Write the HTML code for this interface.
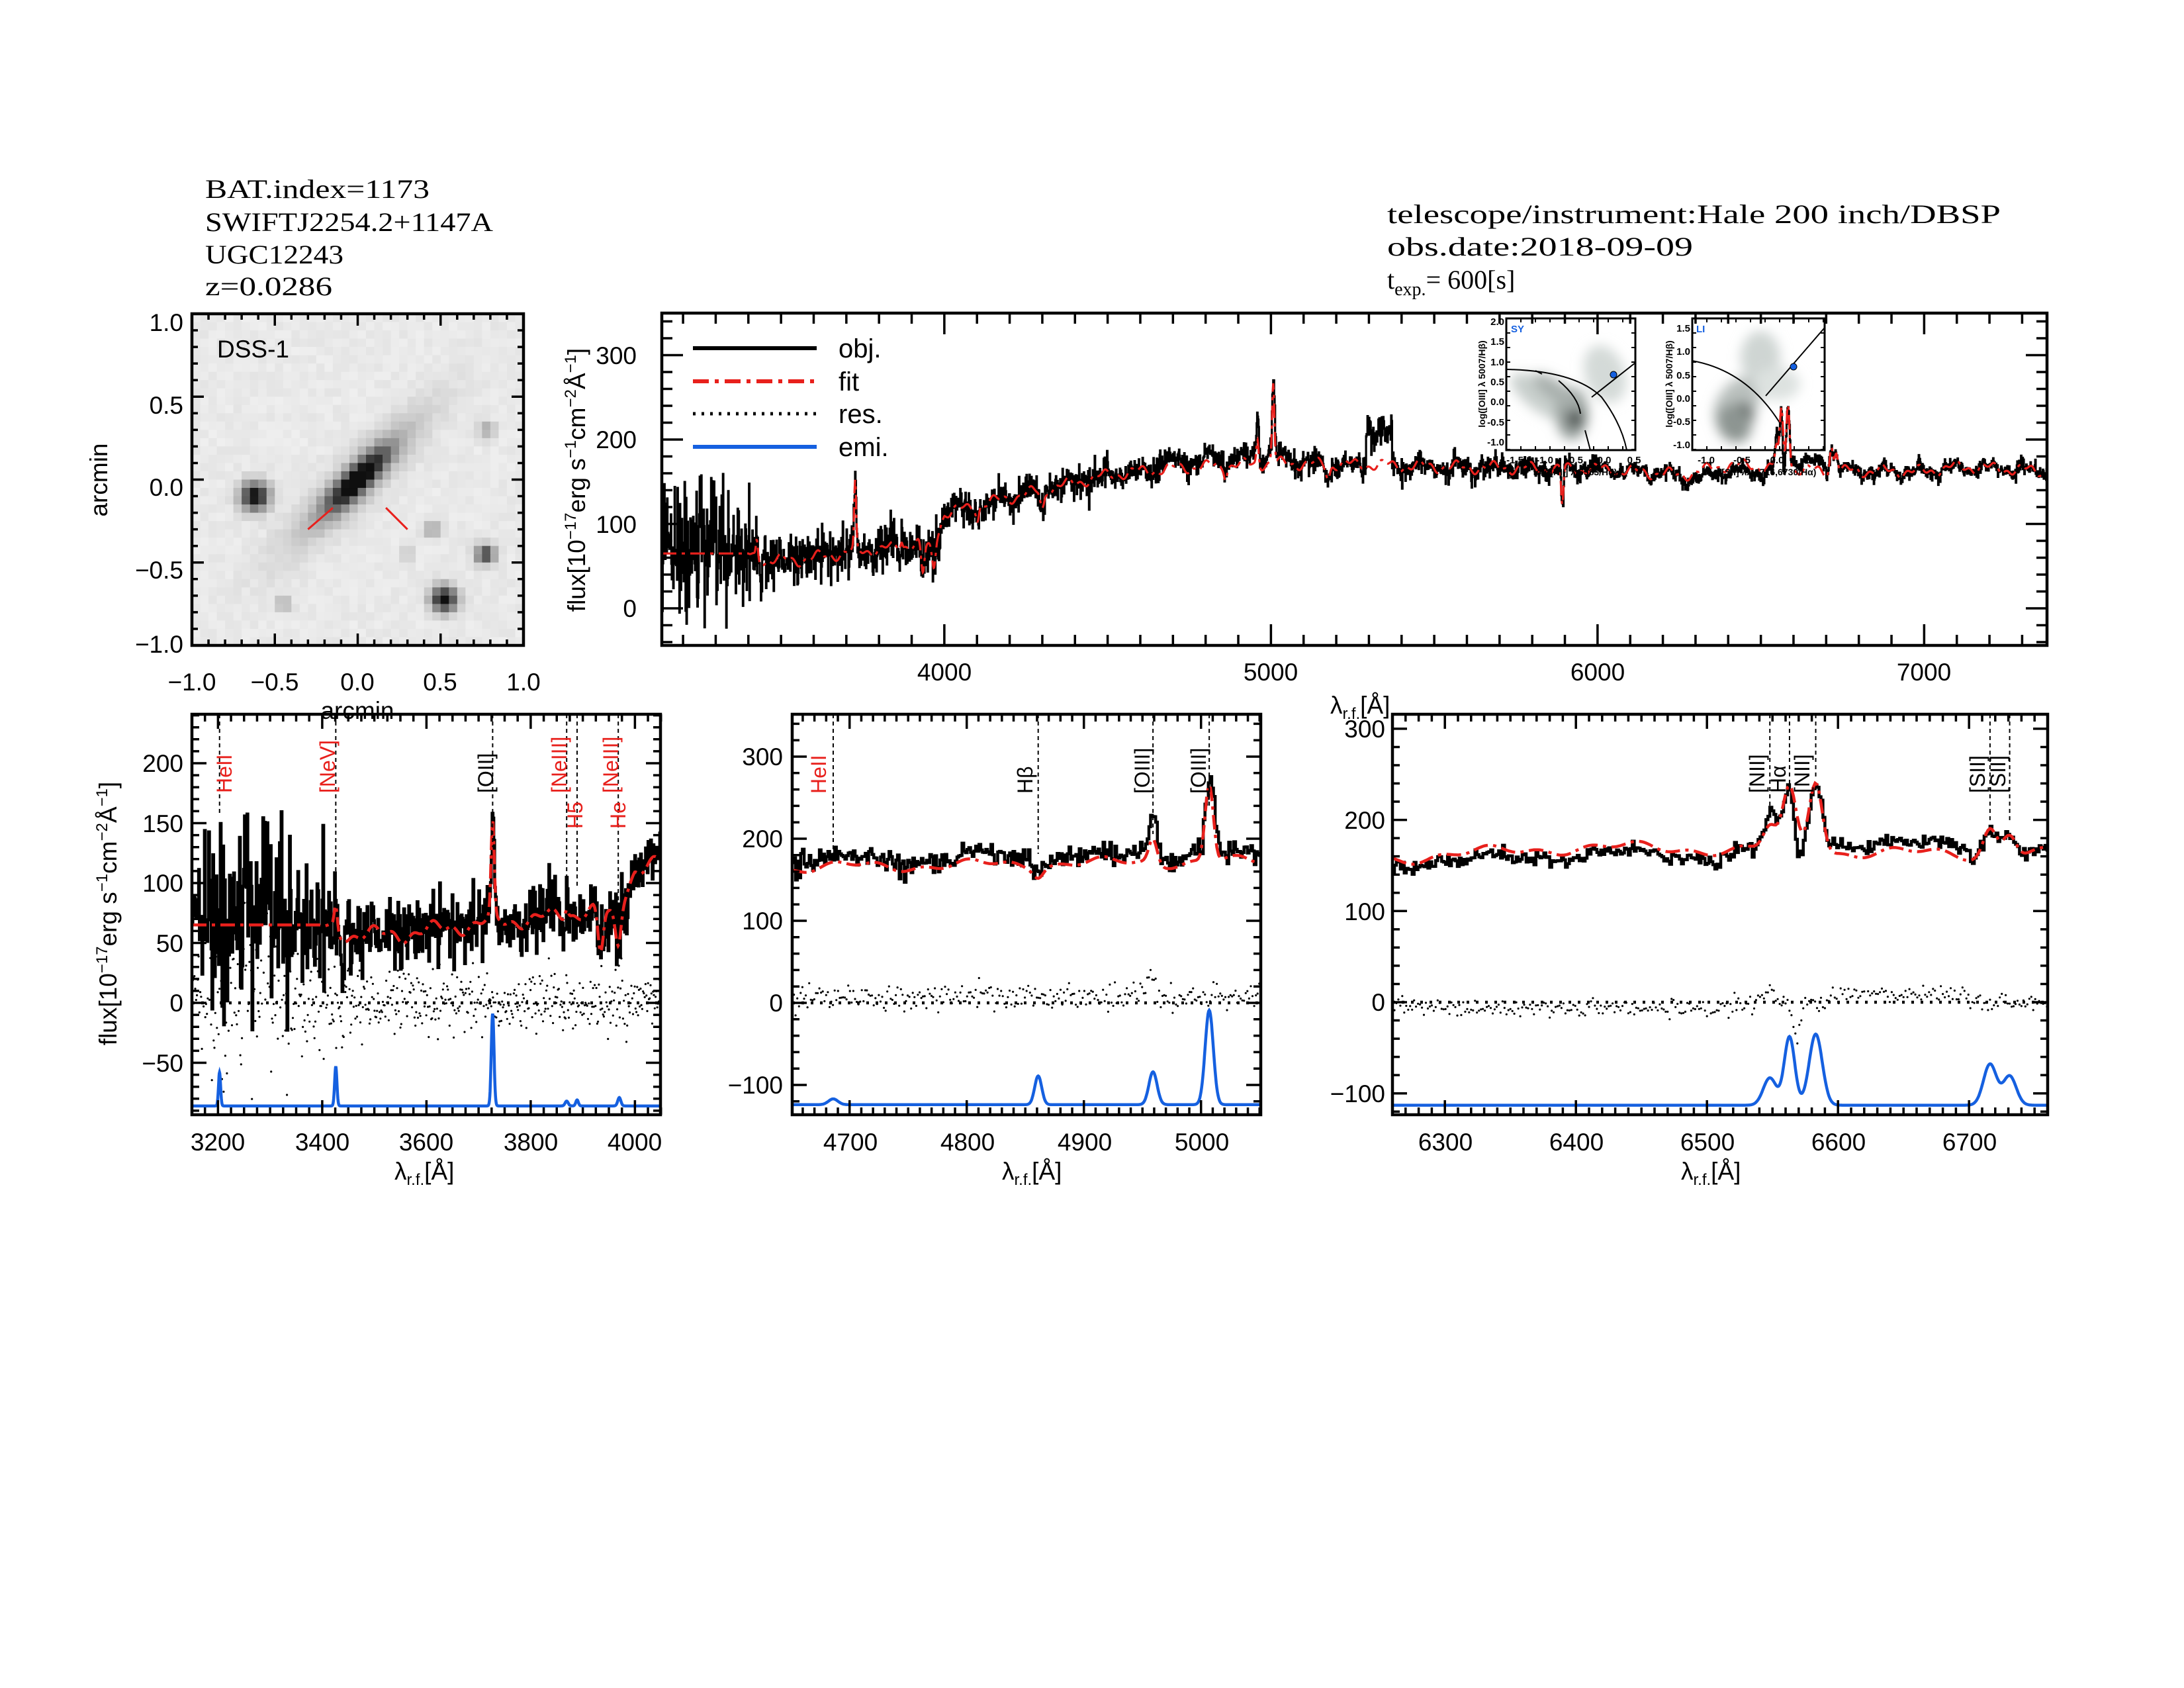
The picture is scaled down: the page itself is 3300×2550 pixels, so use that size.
<!DOCTYPE html>
<html><head><meta charset="utf-8"><style>
html,body{margin:0;padding:0;background:#fff;}
svg{display:block;}
text{font-family:"Liberation Sans",sans-serif;fill:#000;}
.hd{font-family:"Liberation Serif",serif;font-size:40px;}
.tk{font-size:37px;}
.ln{font-family:"Liberation Serif",serif;font-size:32px;}
</style></head><body>
<svg id="s" width="3300" height="2550" viewBox="0 0 3300 2550" xmlns="http://www.w3.org/2000/svg">
<rect width="3300" height="2550" fill="#fff"/>
<defs>
<clipPath id="cm"><rect x="1000" y="473" width="2093" height="502"/></clipPath>
<clipPath id="c1"><rect x="290" y="1079" width="708" height="605"/></clipPath>
<clipPath id="c2"><rect x="1197" y="1079" width="708" height="605"/></clipPath>
<clipPath id="c3"><rect x="2104" y="1079" width="990" height="605"/></clipPath>
<clipPath id="ci1"><rect x="2276" y="481" width="195" height="199"/></clipPath>
<clipPath id="ci2"><rect x="2557" y="481" width="200" height="199"/></clipPath>
<filter id="bl" x="-50%" y="-50%" width="200%" height="200%"><feGaussianBlur stdDeviation="9"/></filter>
</defs>

<!-- header texts -->
<text class="hd" x="310" y="299" font-size="42" textLength="339" lengthAdjust="spacingAndGlyphs">BAT.index=1173</text>
<text class="hd" x="310" y="349" font-size="42" textLength="435" lengthAdjust="spacingAndGlyphs">SWIFTJ2254.2+1147A</text>
<text class="hd" x="310" y="398" font-size="42" textLength="209" lengthAdjust="spacingAndGlyphs">UGC12243</text>
<text class="hd" x="310" y="446" font-size="42" textLength="192" lengthAdjust="spacingAndGlyphs">z=0.0286</text>
<text class="hd" x="2096" y="337" font-size="44" textLength="927" lengthAdjust="spacingAndGlyphs">telescope/instrument:Hale 200 inch/DBSP</text>
<text class="hd" x="2096" y="386" font-size="44" textLength="462" lengthAdjust="spacingAndGlyphs">obs.date:2018-09-09</text>
<text class="hd" x="2096" y="436" font-size="44">t<tspan font-size="28" dy="10">exp.</tspan><tspan dy="-10">=  600[s]</tspan></text>

<g id="img"></g>
<g id="insets"></g>
<g id="plots"></g>

<!-- image panel labels -->
<text class="tk" x="328" y="540" font-family="Liberation Serif" font-size="32">DSS-1</text>
<g class="tk" text-anchor="end">
<text x="277" y="500">1.0</text><text x="277" y="625">0.5</text><text x="277" y="749">0.0</text><text x="277" y="874">−0.5</text><text x="277" y="986">−1.0</text>
</g>
<g class="tk" text-anchor="middle">
<text x="290" y="1043">−1.0</text><text x="415" y="1043">−0.5</text><text x="540" y="1043">0.0</text><text x="665" y="1043">0.5</text><text x="791" y="1043">1.0</text>
</g>
<text class="tk" x="540" y="1086" text-anchor="middle" font-family="Liberation Serif">arcmin</text>
<text class="tk" transform="translate(162,725) rotate(-90)" text-anchor="middle" font-family="Liberation Serif">arcmin</text>

<!-- main panel labels -->
<g class="tk" text-anchor="end">
<text x="962" y="550">300</text><text x="962" y="677">200</text><text x="962" y="805">100</text><text x="962" y="932">0</text>
</g>
<g class="tk" text-anchor="middle">
<text x="1427" y="1028">4000</text><text x="1920" y="1028">5000</text><text x="2414" y="1028">6000</text><text x="2907" y="1028">7000</text>
</g>
<text class="tk" x="2010" y="1078" font-family="Liberation Serif">λ<tspan font-size="24" dy="8">r.f.</tspan><tspan dy="-8">[Å]</tspan></text>
<text class="tk" transform="translate(884,725) rotate(-90)" text-anchor="middle" font-family="Liberation Serif" font-size="38">flux[10<tspan font-size="24" dy="-14">−17</tspan><tspan dy="14">erg s</tspan><tspan font-size="24" dy="-14">−1</tspan><tspan dy="14">cm</tspan><tspan font-size="24" dy="-14">−2</tspan><tspan dy="14">Å</tspan><tspan font-size="24" dy="-14">−1</tspan><tspan dy="14">]</tspan></text>
<!-- legend -->
<line x1="1047" y1="526" x2="1234" y2="526" stroke="#000" stroke-width="6"/>
<line x1="1047" y1="576" x2="1234" y2="576" stroke="#e8201c" stroke-width="6" stroke-dasharray="24 9 6 9"/>
<line x1="1047" y1="625" x2="1234" y2="625" stroke="#000" stroke-width="5" stroke-dasharray="4 9"/>
<line x1="1047" y1="675" x2="1234" y2="675" stroke="#1560e0" stroke-width="6"/>
<g class="hd" font-size="40">
<text x="1267" y="540">obj.</text><text x="1267" y="590">fit</text><text x="1267" y="639">res.</text><text x="1267" y="689">emi.</text>
</g>

<!-- inset labels -->
<g font-size="15" font-weight="bold">
<text x="2283" y="502" style="fill:#1560e0">SY</text>
<text x="2563" y="502" style="fill:#1560e0">LI</text>
<g text-anchor="end">
<text x="2273" y="491">2.0</text><text x="2273" y="521">1.5</text><text x="2273" y="552">1.0</text><text x="2273" y="582">0.5</text><text x="2273" y="612">0.0</text><text x="2273" y="643">-0.5</text><text x="2273" y="673">-1.0</text>
<text x="2554" y="501">1.5</text><text x="2554" y="536">1.0</text><text x="2554" y="572">0.5</text><text x="2554" y="607">0.0</text><text x="2554" y="642">-0.5</text><text x="2554" y="677">-1.0</text>
</g>
<g text-anchor="middle">
<text x="2289" y="700">-1.5</text><text x="2334" y="700">-1.0</text><text x="2379" y="700">-0.5</text><text x="2424" y="700">0.0</text><text x="2469" y="700">0.5</text>
<text x="2578" y="700">-1.0</text><text x="2632" y="700">-0.5</text><text x="2685" y="700">0.0</text><text x="2739" y="700">0.4</text>
</g>
<text transform="translate(2244,580) rotate(-90)" text-anchor="middle" font-size="14">log([OIII] λ 5007/Hβ)</text>
<text transform="translate(2527,580) rotate(-90)" text-anchor="middle" font-size="14">log([OIII] λ 5007/Hβ)</text>
<text x="2380" y="718" text-anchor="middle" font-size="14">log([NII] λ 6583/Hα)</text>
<text x="2660" y="718" text-anchor="middle" font-size="14">log([SII] λλ 6716,6730/Hα)</text>
</g>

<!-- panel 1 labels -->
<g class="tk" text-anchor="end">
<text x="277" y="1166">200</text><text x="277" y="1257">150</text><text x="277" y="1347">100</text><text x="277" y="1438">50</text><text x="277" y="1528">0</text><text x="277" y="1619">−50</text>
</g>
<g class="tk" text-anchor="middle">
<text x="329" y="1738">3200</text><text x="487" y="1738">3400</text><text x="644" y="1738">3600</text><text x="802" y="1738">3800</text><text x="959" y="1738">4000</text>
</g>
<text class="tk" x="596" y="1782" font-family="Liberation Serif">λ<tspan font-size="24" dy="8">r.f.</tspan><tspan dy="-8">[Å]</tspan></text>
<text class="tk" transform="translate(176,1380) rotate(-90)" text-anchor="middle" font-family="Liberation Serif" font-size="38">flux[10<tspan font-size="24" dy="-14">−17</tspan><tspan dy="14">erg s</tspan><tspan font-size="24" dy="-14">−1</tspan><tspan dy="14">cm</tspan><tspan font-size="24" dy="-14">−2</tspan><tspan dy="14">Å</tspan><tspan font-size="24" dy="-14">−1</tspan><tspan dy="14">]</tspan></text>
<g class="ln">
<text transform="translate(350,1198) rotate(-90)" style="fill:#e8201c">HeII</text>
<text transform="translate(506,1198) rotate(-90)" style="fill:#e8201c">[NeV]</text>
<text transform="translate(745,1198) rotate(-90)">[OII]</text>
<text transform="translate(856,1198) rotate(-90)" style="fill:#e8201c">[NeIII]</text>
<text transform="translate(880,1252) rotate(-90)" style="fill:#e8201c">H5</text>
<text transform="translate(934,1198) rotate(-90)" style="fill:#e8201c">[NeIII]</text>
<text transform="translate(945,1252) rotate(-90)" style="fill:#e8201c">He</text>
</g>

<!-- panel 2 labels -->
<g class="tk" text-anchor="end">
<text x="1183" y="1156">300</text><text x="1183" y="1280">200</text><text x="1183" y="1404">100</text><text x="1183" y="1528">0</text><text x="1183" y="1652">−100</text>
</g>
<g class="tk" text-anchor="middle">
<text x="1285" y="1738">4700</text><text x="1462" y="1738">4800</text><text x="1639" y="1738">4900</text><text x="1816" y="1738">5000</text>
</g>
<text class="tk" x="1514" y="1782" font-family="Liberation Serif">λ<tspan font-size="24" dy="8">r.f.</tspan><tspan dy="-8">[Å]</tspan></text>
<g class="ln">
<text transform="translate(1248,1199) rotate(-90)" style="fill:#e8201c">HeII</text>
<text transform="translate(1560,1199) rotate(-90)">Hβ</text>
<text transform="translate(1737,1199) rotate(-90)">[OIII]</text>
<text transform="translate(1822,1199) rotate(-90)">[OIII]</text>
</g>

<!-- panel 3 labels -->
<g class="tk" text-anchor="end">
<text x="2093" y="1114">300</text><text x="2093" y="1252">200</text><text x="2093" y="1390">100</text><text x="2093" y="1527">0</text><text x="2093" y="1665">−100</text>
</g>
<g class="tk" text-anchor="middle">
<text x="2184" y="1738">6300</text><text x="2382" y="1738">6400</text><text x="2580" y="1738">6500</text><text x="2778" y="1738">6600</text><text x="2976" y="1738">6700</text>
</g>
<text class="tk" x="2540" y="1782" font-family="Liberation Serif">λ<tspan font-size="24" dy="8">r.f.</tspan><tspan dy="-8">[Å]</tspan></text>
<g class="ln">
<text transform="translate(2666,1198) rotate(-90)">[NII]</text>
<text transform="translate(2698,1198) rotate(-90)">Hα</text>
<text transform="translate(2734,1198) rotate(-90)">[NII]</text>
<text transform="translate(2999,1198) rotate(-90)">[SII]</text>
<text transform="translate(3030,1198) rotate(-90)">[SII]</text>
</g>
</svg>
<script>
(function(){
const NS="http://www.w3.org/2000/svg";
function el(p,tag,attrs){const e=document.createElementNS(NS,tag);for(const k in attrs)e.setAttribute(k,attrs[k]);p.appendChild(e);return e;}
function rng(seed){return function(){seed|=0;seed=seed+0x6D2B79F5|0;let t=Math.imul(seed^seed>>>15,1|seed);t=t+Math.imul(t^t>>>7,61|t)^t;return((t^t>>>14)>>>0)/4294967296;}}
const R=rng(12345);
function gn(){let u=R()||1e-9,v=R();return Math.sqrt(-2*Math.log(u))*Math.cos(2*Math.PI*v);}
const G=(l,c,s)=>Math.exp(-0.5*((l-c)/s)*((l-c)/s));
const cp=[[3100,65],[3400,63],[3450,57],[3550,57],[3700,66],[3850,72],[3920,78],[3960,70],[4000,112],[4100,122],[4300,140],[4500,158],[4700,166],[4900,170],[5000,172],[5300,170],[5600,167],[6000,165],[6260,158],[6400,170],[6500,168],[6700,162],[6800,163],[7000,162],[7100,168],[7400,162]];
function interp(l){for(let i=1;i<cp.length;i++){if(l<=cp[i][0]){const a=cp[i-1],b=cp[i];return a[1]+(b[1]-a[1])*(l-a[0])/(b[0]-a[0]);}}return cp[cp.length-1][1];}
function fit(l){
 let v=interp(l);
 if(l<3400) return 65;
 v+=5*Math.sin(l/17.3)+3*Math.sin(l/6.1);
 v-=35*G(l,3934,5)+30*G(l,3968,5)+22*G(l,4300,6)+10*G(l,4861,4)+15*G(l,5175,6)+45*G(l,5892,3.5)+15*G(l,4102,4);
 v+=78*G(l,3727,3)+8*G(l,3869,3)+95*G(l,5007,3.5)+30*G(l,4959,3.5)+25*G(l,6548,5)+65*G(l,6563,5)+80*G(l,6583,5)+30*G(l,6716,5)+25*G(l,6731,5)+20*G(l,3426,3);
 return v;}
function off(l){let o=0;if(l>4650&&l<5060)o+=8;if(l>6250&&l<6520)o-=7;if(l>6595&&l<6700)o+=10;
 o+=15*G(l,6548,3)-35*G(l,6569,3)+15*G(l,4959,4);
 if(l>5290&&l<5370)o+=40+25*(R()-0.5);
 return o;}
function sig(l){if(l<3300)return 42;if(l<3500)return 42-(l-3300)/200*26;if(l<4000)return 14;if(l<4500)return 10;if(l<6000)return 7;return 4;}
const NZ=[];for(let i=0;i<3000;i++)NZ.push(gn());
const RZ=[];for(let i=0;i<3000;i++)RZ.push(gn());
function nz(l){const i=Math.max(0,Math.min(2999,Math.round((l-3100)/1.45)));return NZ[i];}
function obj(l){return fit(l)+off(l)+sig(l)*nz(l);}
const P=document.getElementById('plots');

function panel(o){
 const X=l=>o.x0+(l-o.l0)*o.sx, Y=v=>o.y0-v*o.sy;
 const g=el(P,'g',{'clip-path':'url(#'+o.clip+')'});
 if(o.res){
  el(g,'line',{x1:o.bx0,x2:o.bx1,y1:Y(0),y2:Y(0),stroke:'#000','stroke-width':4.5,'stroke-dasharray':'4 10'});
  let d='';
  for(let l=o.l0;l<=o.l1;l+=o.step){const r=(obj(l)-fit(l))*0.9+o.rs*RZ[Math.round((l-3100)/o.step)%3000];d+=`M${X(l).toFixed(1)} ${Y(r).toFixed(1)}h0`;}
  el(g,'path',{d:d,stroke:'#000','stroke-width':3.2,'stroke-linecap':'round',fill:'none'});
 }
 if(o.emi){
  let d='';
  for(let l=o.l0;l<=o.l1;l+=0.5){let v=o.emiB;for(const e of o.emi)v+=e[1]*G(l,e[0],e[2]);d+=(d?'L':'M')+X(l).toFixed(1)+' '+Y(v).toFixed(1);}
  el(g,'path',{d:d,stroke:'#1560e0','stroke-width':o.lw,fill:'none'});
 }
 let d='';let first=true;
 for(let l=o.l0;l<=o.l1;l+=o.step){const y=Y(obj(l)).toFixed(1);const x=X(l).toFixed(1);if(first){d+=`M${x} ${y}`;first=false;}else d+=`V${y}`;d+=`H${X(l+o.step).toFixed(1)}`;}
 el(g,'path',{d:d,stroke:'#000','stroke-width':o.lw,fill:'none','stroke-linejoin':'miter'});
 let f='';
 for(let l=o.l0;l<=o.l1;l+=o.step){f+=(f?'L':'M')+X(l).toFixed(1)+' '+Y(fit(l)).toFixed(1);}
 el(g,'path',{d:f,stroke:'#e8201c','stroke-width':o.lw,fill:'none','stroke-dasharray':'22 8 5 8'});
 if(o.marks)for(const m of o.marks){el(P,'line',{x1:X(m[0]),x2:X(m[0]),y1:o.by0,y2:m[1],stroke:'#000','stroke-width':2,'stroke-dasharray':'6 5'});}
 axes(o.bx0,o.by0,o.bx1,o.by1,X,Y,o.xt,o.yt,o.L,o.Lm);
}
function axes(x0,y0,x1,y1,X,Y,xt,yt,L,Lm){
 let d='';
 for(let v=xt[0];v<=xt[1]+1e-9;v+=xt[3]){const x=X(v);if(x<x0-1||x>x1+1)continue;const maj=Math.abs(v/xt[2]-Math.round(v/xt[2]))<1e-6;const l=maj?L:Lm;d+=`M${x} ${y1}v${-l}M${x} ${y0}v${l}`;}
 for(let v=yt[0];v<=yt[1]+1e-9;v+=yt[3]){const y=Y(v);if(y<y0-1||y>y1+1)continue;const maj=Math.abs(v/yt[2]-Math.round(v/yt[2]))<1e-6;const l=maj?L:Lm;d+=`M${x0} ${y}h${l}M${x1} ${y}h${-l}`;}
 el(P,'path',{d:d,stroke:'#000','stroke-width':3.5,fill:'none'});
 el(P,'rect',{x:x0,y:y0,width:x1-x0,height:y1-y0,fill:'none',stroke:'#000','stroke-width':4.5});
}
const I=document.getElementById('insets');
function inset(bx0,by0,bx1,by1,clip,blobs,curves,dot){
 el(I,'rect',{x:bx0,y:by0,width:bx1-bx0,height:by1-by0,fill:'#fff'});
 const g=el(I,'g',{'clip-path':'url(#'+clip+')'});
 const gb=el(g,'g',{filter:'url(#bl)'});
 for(const b of blobs)el(gb,'ellipse',{cx:b[0],cy:b[1],rx:b[2],ry:b[3],fill:b[4],transform:`rotate(${b[5]} ${b[0]} ${b[1]})`});
 for(const c of curves)el(g,'path',{d:c,stroke:'#000','stroke-width':2,fill:'none'});
 el(g,'circle',{cx:dot[0],cy:dot[1],r:5,fill:'#1560e0',stroke:'#000','stroke-width':1});
 let d='';
 for(let x=bx0+22;x<bx1;x+=22)d+=`M${x} ${by0}v6M${x} ${by1}v-6`;
 for(let y=by0+22;y<by1;y+=22)d+=`M${bx0} ${y}h6M${bx1} ${y}h-6`;
 el(I,'path',{d:d,stroke:'#000','stroke-width':2});
 el(I,'rect',{x:bx0,y:by0,width:bx1-bx0,height:by1-by0,fill:'none',stroke:'#000','stroke-width':3});
}
inset(2276,481,2471,680,'ci1',
 [[2330,600,55,22,'#c8cfcc',35],[2375,625,25,40,'#9aa29f',0],[2380,633,12,14,'#4a504e',0],[2425,565,30,45,'#d4dad8',-20],[2350,590,40,15,'#a9b0ad',35]],
 ['M2276 558 Q2380 560 2420 600 Q2450 640 2458 680','M2355 575 Q2385 600 2388 625','M2395 650 L2403 680','M2405 600 L2471 548','M2320 560 L2330 565'],[2438,566]);
inset(2557,481,2757,680,'ci2',
 [[2625,610,45,30,'#b9c0bd',-55],[2660,540,30,40,'#cfd5d3',0],[2635,625,14,18,'#4f5553',-30],[2620,640,25,30,'#8d9592',-30],[2685,580,35,25,'#dde2e0',0]],
 ['M2557 545 Q2640 560 2690 640','M2668 598 L2757 495'],[2710,554]);

panel({clip:'cm',x0:1000,l0:3135,l1:7377,sx:0.4935,y0:919,sy:1.275,step:1.45,lw:3.2,
 bx0:1000,by0:473,bx1:3093,by1:975,xt:[3200,7300,1000,100],yt:[-40,340,100,20],L:32,Lm:16});
panel({clip:'c1',x0:290,l0:3150,l1:4050,sx:0.7875,y0:1515,sy:1.81,step:1.6,lw:4.5,res:true,rs:2,
 emi:[[3203,28,2],[3426,33,2.2],[3727,77,2.6],[3869,4,3],[3889,5,2.5],[3970,7,3]],emiB:-86,
 bx0:290,by0:1079,bx1:998,by1:1684,xt:[3150,4050,200,25],yt:[-90,240,50,10],L:22,Lm:11,
 marks:[[3203,1230],[3426,1320],[3727,1280],[3869,1330],[3889,1340],[3968,1380]]});
panel({clip:'c2',x0:1197,l0:4651,l1:5051,sx:1.77,y0:1515,sy:1.24,step:1.45,lw:4.5,res:true,rs:5,
 emi:[[4686,7,4],[4861,35,3],[4959,40,3.5],[5007,115,3.5]],emiB:-124,
 bx0:1197,by0:1079,bx1:1905,by1:1684,xt:[4660,5050,100,10],yt:[-120,340,100,20],L:22,Lm:11,
 marks:[[4686,1290],[4861,1290],[4959,1260],[5007,1220]]});
panel({clip:'c3',x0:2104,l0:6260,l1:6760,sx:1.98,y0:1514,sy:1.377,step:1.5,lw:4.5,res:true,rs:3,
 emi:[[6548,30,5],[6563,75,4],[6583,78,5],[6716,45,5],[6731,32,5]],emiB:-113,
 bx0:2104,by0:1079,bx1:3094,by1:1684,xt:[6260,6760,100,10],yt:[-120,310,100,20],L:22,Lm:11,
 marks:[[6548,1230],[6563,1190],[6583,1175],[6716,1240],[6731,1240]]});

const IM=document.getElementById('img');
const ix0=290,iy0=474,W=501,N=40,ps=W/N;
const stars=[[-0.62,-0.1,0.06,1],[0.52,-0.72,0.055,1],[0.77,-0.45,0.04,0.8],[0.45,-0.3,0.035,0.35],[0.78,0.3,0.035,0.3],[-0.45,-0.75,0.035,0.25],[0.3,-0.45,0.03,0.2]];
const R2=rng(99);
for(let j=0;j<N;j++)for(let i=0;i<N;i++){
 const a=-1+(i+0.5)/N*2,b=1-(j+0.5)/N*2;
 const u=(a+b)/Math.SQRT2,w=(b-a)/Math.SQRT2;
 let v=0.95*Math.exp(-0.5*((u/0.17)**2+(w/0.05)**2))+0.3*Math.exp(-0.5*((u/0.4)**2+(w/0.09)**2));
 for(const s of stars)v+=s[3]*Math.exp(-0.5*(((a-s[0])**2+(b-s[1])**2)/(s[2]*s[2])));
 v+=0.05*(R2()-0.5)+0.03;
 v=Math.max(0,Math.min(1,v));
 const c=Math.round(240-225*v);
 el(IM,'rect',{x:(ix0+i*ps).toFixed(2),y:(iy0+j*ps).toFixed(2),width:(ps+0.6).toFixed(2),height:(ps+0.6).toFixed(2),fill:`rgb(${c},${c},${c})`});
}
const IX=a=>ix0+(a+1)/2*W, IY=b=>iy0+(1-b)/2*W;
el(IM,'line',{x1:IX(-0.3),y1:IY(-0.3),x2:IX(-0.15),y2:IY(-0.17),stroke:'#e8201c','stroke-width':3});
el(IM,'line',{x1:IX(0.17),y1:IY(-0.17),x2:IX(0.3),y2:IY(-0.3),stroke:'#e8201c','stroke-width':3});
axes(290,474,791,975,IX,IY,[-1,1,0.5,0.1],[-1,1,0.5,0.1],18,9);
})();
</script>
</body></html>
